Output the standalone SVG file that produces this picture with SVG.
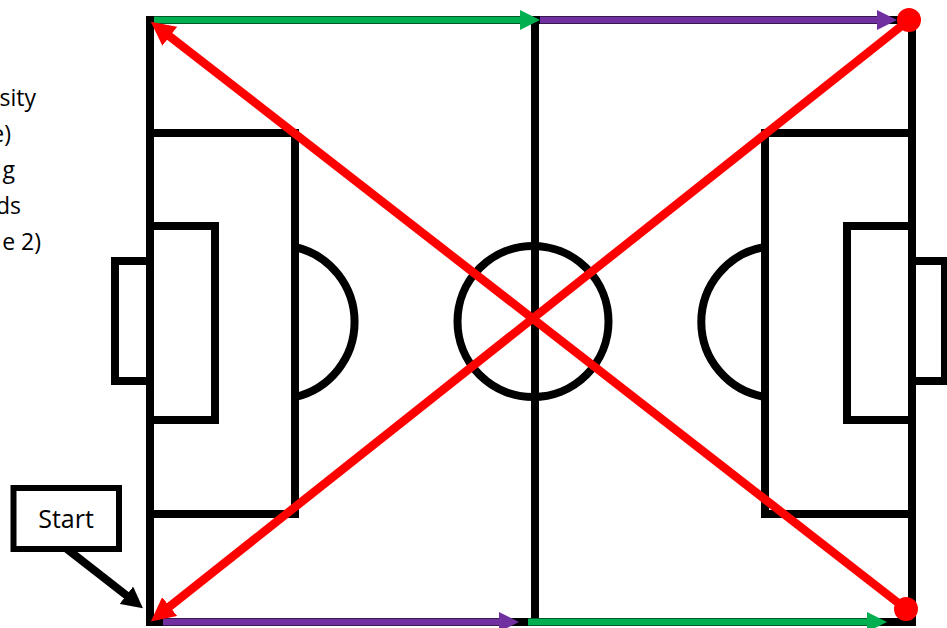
<svg xmlns="http://www.w3.org/2000/svg" width="947" height="628" viewBox="0 0 947 628">
<style>
.k{fill:none;stroke:#000;stroke-width:8}
.t{font-family:"Open Sans","Liberation Sans",sans-serif;font-size:23px;fill:#000}
.g{stroke:#00b050;stroke-width:7;fill:none}
.p{stroke:#7030a0;stroke-width:7;fill:none}
.r{stroke:#f00;stroke-width:8.5;fill:none}
.b{stroke:#000;stroke-width:8;fill:none}
</style>
<defs>
<marker id="ag" markerUnits="userSpaceOnUse" markerWidth="20" markerHeight="20" refX="5" refY="10" orient="auto"><path d="M0 0L20 10L0 20Z" fill="#00b050"/></marker>
<marker id="ap" markerUnits="userSpaceOnUse" markerWidth="20" markerHeight="20" refX="5" refY="10" orient="auto"><path d="M0 0L20 10L0 20Z" fill="#7030a0"/></marker>
<marker id="ar" markerUnits="userSpaceOnUse" markerWidth="24" markerHeight="24" refX="5" refY="12" orient="auto"><path d="M0 0L24 12L0 24Z" fill="#f00"/></marker>
<marker id="ab" markerUnits="userSpaceOnUse" markerWidth="21" markerHeight="22" refX="5" refY="11" orient="auto"><path d="M0 0L21 11L0 22Z" fill="#000"/></marker>
</defs>
<g id="caption">
<text class="t" text-anchor="end" x="36" y="106">sity</text>
<text class="t" text-anchor="end" x="11" y="142">e)</text>
<text class="t" text-anchor="end" x="15" y="178">g</text>
<text class="t" text-anchor="end" x="21" y="214">ds</text>
<text class="t" text-anchor="end" x="41" y="250">e 2)</text>
</g>
<g id="pitch">
<rect class="k" x="150" y="20" width="762" height="602"/>
<path class="k" d="M535 20V622"/>
<circle class="k" cx="533" cy="321.500" r="75.500"/>
</g>
<g id="left-end">
<path class="k" d="M150 133H295V514H150"/>
<path class="k" d="M150 226H215V420H150"/>
<path class="k" d="M150 261H115V381H150"/>
<path class="k" d="M295 247A77 77 0 0 1 295 397"/>
</g>
<g id="right-end">
<path class="k" d="M912 133H765V514H912"/>
<path class="k" d="M912 226H847V420H912"/>
<path class="k" d="M912 261H945V381H912"/>
<path class="k" d="M765 247A76 76 0 0 0 765 397"/>
</g>
<g id="start">
<rect x="13.500" y="488" width="105.500" height="61" fill="#fff" stroke="#000" stroke-width="6"/>
<text x="66" y="528" text-anchor="middle" class="t" style="font-size:25px">Start</text>
</g>
<g id="connectors">
<path class="g" d="M154 20H525" marker-end="url(#ag)"/>
<path class="p" d="M540 20H882" marker-end="url(#ap)"/>
<path class="p" d="M163 622H504" marker-end="url(#ap)"/>
<path class="g" d="M528 622H872" marker-end="url(#ag)"/>
<path class="b" d="M67 549L130.300 598.300" marker-end="url(#ab)"/>
<path class="r" d="M909 20L165.700 609.600" marker-end="url(#ar)"/>
<path class="r" d="M906 609L165.800 33.300" marker-end="url(#ar)"/>
</g>
<g id="dot-top-right"><circle cx="909" cy="20" r="12" fill="#f00"/></g>
<g id="dot-bottom-right"><circle cx="906" cy="609" r="12" fill="#f00"/></g>
</svg>
